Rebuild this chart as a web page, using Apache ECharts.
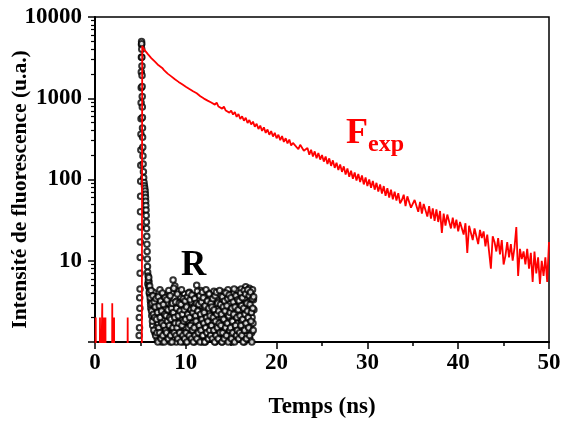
<!DOCTYPE html>
<html>
<head>
<meta charset="utf-8">
<script src="https://cdn.jsdelivr.net/npm/echarts@6/dist/echarts.min.js"></script>
<style>html,body{margin:0;padding:0;background:#fff}#c{width:561px;height:425px}</style>
</head>
<body>
<div id="c"></div>
<script>
// ---------- DATA ----------
const xTickLabels = [0, 10, 20, 30, 40, 50];
const yTickLabels = [10, 100, 1000, 10000];
const yMinorTicks = [2,3,4,5,6,7,8,9,20,30,40,50,60,70,80,90,200,300,400,500,600,700,800,900,2000,3000,4000,5000,6000,7000,8000,9000];

// F_exp (red): early part (noise spikes + rise), time (ns) / counts
const fPreTime  = [0.0, 0.05, 0.08, 0.11, 0.50, 0.55, 0.60, 0.77, 0.80, 0.83, 0.97, 1.00, 1.03, 1.12, 1.15, 1.18, 1.87, 1.90, 1.93, 2.07, 2.10, 2.13, 3.57, 3.60, 3.63, 5.15, 5.20];
const fPreValue = [0.1, 0.1, 2, 0.1, 0.1, 2, 0.1, 0.1, 3, 0.1, 0.1, 2, 0.1, 0.1, 2, 0.1, 0.1, 3, 0.1, 0.1, 2, 0.1, 0.1, 2, 0.1, 0.1, 4400];
// F_exp decay, every 0.2 ns from 5.4 ns
const fStart = 5.4, fStep = 0.2;
const fValue = [
  4000, 3880, 3520, 3330, 3120, 3040, 2820, 2730, 2540, 2470,
  2360, 2220, 2170, 2010, 1990, 1860, 1820, 1710, 1680, 1590,
  1570, 1490, 1480, 1390, 1390, 1300, 1300, 1220, 1215, 1150,
  1160, 1060, 1085, 990, 1025, 935, 970, 885, 920, 835,
  885, 790, 835, 745, 790, 705, 740, 665, 705, 630,
  675, 590, 640, 555, 600, 530, 575, 495, 540, 475,
  515, 445, 485, 418, 460, 396, 438, 375, 412, 355,
  395, 338, 375, 322, 355, 305, 342, 290, 322, 278,
  310, 262, 282, 296, 250, 236, 268, 254, 226, 214,
  244, 202, 232, 192, 222, 183, 212, 176, 200, 166,
  192, 155, 182, 147, 172, 139, 161, 131, 153, 124,
  145, 115, 137, 108, 128, 102, 122, 97, 117, 93,
  112, 87, 106, 83, 100, 79, 96, 75, 91, 71,
  87, 67, 83, 63, 78, 60, 75, 57, 71, 55,
  68, 51, 56, 65, 47, 62, 59, 45, 43, 56,
  55, 40, 53, 38, 50, 48, 35, 47, 33, 44,
  31, 43, 30, 41, 22, 38, 27, 37, 35, 25,
  34, 25, 32, 23, 30, 29, 21, 29, 12.5, 27,
  26, 18, 25, 20, 16, 24, 19, 23, 15, 21,
  21, 8, 20, 17, 13, 19, 12, 18, 9, 11.5,
  17, 11, 16, 10, 14.5, 26, 6.5, 14, 10.5, 13,
  9, 14, 8, 12.5, 5.5, 13, 7, 11, 5.2, 10,
  6.5, 11, 5.5, 17
];

// R (instrument response, black circles): peak part, time (ns) / counts
const rPeakTime = [4.86, 4.88, 4.90, 4.92, 4.94, 4.96, 4.97, 4.98, 4.99, 5.00, 5.01, 5.02, 5.03, 5.04, 5.05, 5.06, 5.07, 5.08, 5.09, 5.10, 5.11, 5.12,
  5.13, 5.14, 5.15, 5.16, 5.17, 5.18, 5.19, 5.20, 5.21, 5.22, 5.23, 5.24, 5.26, 5.28, 5.30, 5.33, 5.36, 5.40, 5.44, 5.48,
  5.52, 5.54, 5.56, 5.58, 5.60, 5.62, 5.64, 5.66, 5.68, 5.70, 5.72, 5.74, 5.76, 5.78, 5.80, 5.82];
const rPeakValue = [1.2, 2.0, 1.5, 3.5, 2.6, 4.5, 7, 11, 17, 26, 40, 62, 95, 150, 230, 360, 560, 880, 1350, 2100, 3200, 4600,
  5000, 4700, 4000, 3200, 2500, 1900, 1400, 1050, 780, 580, 430, 330, 250, 195, 155, 125, 105, 92, 84, 78,
  72, 66, 60, 54, 48, 42, 36, 30, 25, 20, 16, 13, 10.5, 8.5, 7.2, 5.2];
// R background noise, channel A: every 0.05 ns from 5.85 ns
const rStartA = 5.85, rStep = 0.05;
const rNoiseA = [
  6.5, 4.8, 5.5, 3.9, 4.4, 3.2, 2.6, 3.8, 2.1, 3.3, 1.6, 2.8, 4.1, 1.9, 2.4, 1.3, 3.6, 2.2, 1.5, 2.9,
  1.1, 2.5, 1.7, 3.4, 1.2, 2.0, 4.4, 1.4, 1.8, 2.7, 1.0, 3.1, 1.6, 2.3, 1.2, 1.9, 3.8, 1.3, 2.6, 1.5,
  2.1, 1.1, 3.0, 1.7, 1.4, 2.4, 3.5, 1.2, 1.9, 1.0, 2.8, 1.5, 4.0, 2.2, 1.3, 5.8, 1.6, 2.6, 1.1, 4.9,
  1.4, 2.3, 1.0, 3.2, 1.8, 1.2, 2.7, 4.2, 1.5, 2.0, 1.1, 3.6, 1.7, 2.5, 1.3, 1.9, 3.0, 1.0, 2.2, 1.6,
  3.9, 1.2, 2.4, 1.5, 1.0, 2.9, 1.8, 3.4, 1.3, 2.1, 1.1, 4.1, 1.6, 2.6, 1.4, 3.1, 1.2, 2.0, 1.7, 3.7,
  1.3, 2.2, 1.0, 2.8, 1.6, 3.5, 1.2, 5.0, 1.9, 1.4, 2.5, 1.1, 3.3, 1.7, 2.1, 1.3, 4.3, 1.5, 2.7, 1.0,
  2.4, 1.4, 3.0, 1.2, 1.8, 2.6, 1.0, 3.8, 1.5, 2.2, 1.3, 2.9, 1.7, 4.0, 1.1, 2.3, 1.6, 3.4, 1.2, 2.0,
  1.5, 3.1, 1.1, 2.5, 1.8, 4.2, 1.3, 2.1, 1.0, 2.8, 1.6, 3.6, 1.2, 1.9, 2.6, 1.4, 3.9, 1.1, 2.3, 1.7,
  2.9, 1.3, 2.0, 1.0, 3.3, 1.6, 2.4, 4.1, 1.2, 1.8, 2.7, 1.4, 3.5, 1.1, 2.2, 1.5, 4.4, 1.3, 2.0, 1.7,
  3.0, 1.2, 2.5, 1.6, 3.8, 1.0, 2.1, 1.4, 4.0, 1.8, 2.8, 1.1, 3.2, 1.5, 2.3, 1.3, 4.3, 1.7, 2.6, 1.2,
  2.0, 3.6, 1.4, 2.4, 1.1, 4.5, 1.8, 2.9, 1.3, 3.9, 1.6, 2.2, 1.0, 3.4, 1.5, 4.8, 2.6, 1.2, 4.2, 1.9,
  1.4, 3.1, 2.3, 4.6, 1.1, 2.7, 1.6, 3.8, 1.3, 2.0, 4.4, 1.7, 3.3, 2.5
];
// R background noise, channel B: every 0.05 ns from 5.875 ns
const rStartB = 5.875;
const rNoiseB = [
  5.8, 6.2, 4.1, 4.9, 3.5, 2.9, 4.3, 2.4, 3.0, 1.8, 3.7, 2.2, 1.4, 3.1, 2.0, 2.7, 1.2, 3.4, 1.9, 1.3,
  2.3, 1.0, 3.6, 1.5, 2.8, 1.3, 2.0, 3.2, 1.1, 2.4, 1.7, 4.0, 1.2, 2.9, 1.6, 1.0, 2.2, 3.5, 1.4, 2.1,
  1.3, 3.3, 1.8, 2.5, 1.1, 4.3, 1.6, 2.0, 3.7, 1.2, 1.9, 2.6, 1.0, 3.0, 1.5, 2.3, 4.6, 1.3, 2.0, 1.7,
  3.1, 1.2, 2.6, 1.5, 3.9, 1.1, 2.1, 1.7, 3.0, 1.3, 2.4, 1.0, 2.9, 4.4, 1.6, 2.2, 1.2, 3.4, 1.8, 2.5,
  1.1, 3.2, 1.9, 1.3, 2.7, 1.0, 3.6, 2.2, 1.5, 4.0, 1.2, 2.0, 3.3, 1.6, 2.5, 1.1, 3.8, 1.4, 2.3, 1.0,
  2.6, 1.5, 3.4, 1.2, 2.1, 1.8, 3.0, 1.1, 4.2, 2.4, 1.3, 2.9, 1.6, 3.7, 1.0, 2.2, 1.4, 3.1, 1.9, 4.1,
  1.2, 3.5, 1.7, 2.3, 1.0, 2.8, 1.5, 4.4, 2.0, 1.3, 3.2, 1.8, 1.1, 2.6, 3.9, 1.4, 2.1, 1.2, 3.0, 1.6,
  2.7, 1.1, 3.4, 2.0, 1.4, 2.5, 1.0, 3.7, 1.8, 1.2, 4.1, 2.2, 1.5, 3.0, 1.1, 2.4, 1.7, 4.3, 1.3, 2.9,
  1.6, 2.2, 1.0, 3.6, 1.3, 2.7, 1.9, 1.1, 3.2, 2.4, 1.5, 4.0, 1.2, 2.8, 1.7, 3.4, 1.0, 2.1, 3.8, 1.4,
  2.3, 1.5, 3.5, 1.1, 2.6, 1.8, 1.3, 3.1, 2.2, 4.5, 1.0, 2.7, 1.6, 3.7, 1.2, 2.0, 1.4, 3.3, 2.5, 1.1,
  3.2, 1.3, 2.1, 4.0, 1.6, 2.8, 1.2, 3.5, 1.9, 1.0, 2.6, 4.3, 1.4, 2.2, 3.9, 1.7, 1.1, 3.0, 2.4, 4.4,
  2.0, 1.5, 3.7, 1.2, 2.9, 4.1, 1.8, 2.3, 1.0, 3.4, 2.6, 1.4, 3.6
];

// ---------- BUILD ----------
const fData = fPreTime.map((t, i) => [t, fPreValue[i]])
  .concat(fValue.map((v, i) => [+(fStart + i * fStep).toFixed(3), v]));
const rData = rPeakTime.map((t, i) => [t, rPeakValue[i]])
  .concat(rNoiseA.map((v, i) => [+(rStartA + i * rStep).toFixed(3), v]))
  .concat(rNoiseB.map((v, i) => [+(rStartB + i * rStep).toFixed(3), v]));

const FONT = 'Liberation Serif, Times New Roman, serif';
const chart = echarts.init(document.getElementById('c'), null, {renderer: 'canvas'});
const labelStyle = {fontFamily: FONT, fontWeight: 'bold', fontSize: 23, color: '#000'};

chart.setOption({
  animation: false,
  backgroundColor: '#fff',
  grid: {left: 95, right: 12, top: 17, bottom: 83, show: true, borderColor: '#000', borderWidth: 1.5,
         backgroundColor: 'transparent', containLabel: false, outerBoundsMode: 'none'},
  xAxis: {
    type: 'value', min: 0, max: 50, interval: 10,
    name: 'Temps (ns)', nameLocation: 'middle', nameGap: 54, nameMoveOverlap: false,
    nameTextStyle: {fontFamily: FONT, fontWeight: 'bold', fontSize: 23, color: '#000'},
    axisLine: {show: true, onZero: false, lineStyle: {color: '#000', width: 2}},
    axisTick: {show: true, inside: false, length: 7, lineStyle: {color: '#000', width: 1.5}},
    minorTick: {show: true, splitNumber: 2, length: 4, lineStyle: {color: '#000', width: 1.5}},
    axisLabel: Object.assign({margin: 10, formatter: v => xTickLabels.includes(Math.round(v)) ? String(Math.round(v)) : ''}, labelStyle),
    splitLine: {show: false}
  },
  yAxis: [{
    type: 'log', logBase: 10, min: 1, max: 10000,
    name: 'Intensité de fluorescence (u.a.)', nameLocation: 'middle', nameRotate: 90, nameGap: 64, nameMoveOverlap: false,
    nameTextStyle: {fontFamily: FONT, fontWeight: 'bold', fontSize: 21.5, color: '#000', padding: [0, 20, 0, 0]},
    axisLine: {show: true, onZero: false, lineStyle: {color: '#000', width: 2}},
    axisTick: {show: true, inside: false, length: 7, lineStyle: {color: '#000', width: 1.5}},
    axisLabel: Object.assign({margin: 13, formatter: v => yTickLabels.includes(Math.round(v)) ? String(Math.round(v)) : ''}, labelStyle),
    splitLine: {show: false}
  }, {
    // helper axis in decades (log10 of the value) carrying the minor ticks 2..9 of each decade
    type: 'value', min: 0, max: 4, position: 'left', offset: 0,
    axisLine: {show: false},
    axisTick: {show: true, inside: false, length: 4, customValues: yMinorTicks.map(v => Math.log10(v)), lineStyle: {color: '#000', width: 1.2}},
    axisLabel: {show: false},
    splitLine: {show: false}
  }],
  series: [{
    name: 'R', type: 'scatter', data: rData, yAxisIndex: 0,
    symbol: 'emptyCircle', symbolSize: 5.5,
    itemStyle: {color: '#000', borderColor: '#000', borderWidth: 1},
    clip: true, z: 2, silent: true
  }, {
    name: 'Fexp', type: 'line', data: fData, yAxisIndex: 0,
    showSymbol: false, symbol: 'none',
    lineStyle: {color: '#ff0000', width: 1.8},
    clip: true, z: 3, silent: true
  }],
  graphic: [
    {type: 'text', x: 346, y: 134, z: 10, style: {text: 'F', fill: '#ff0000', font: 'bold 36px ' + FONT, textAlign: 'left', verticalAlign: 'middle'}},
    {type: 'text', x: 368, y: 144.5, z: 10, style: {text: 'exp', fill: '#ff0000', font: 'bold 24px ' + FONT, textAlign: 'left', verticalAlign: 'middle'}},
    {type: 'text', x: 181, y: 266, z: 10, style: {text: 'R', fill: '#000', font: 'bold 35px ' + FONT, textAlign: 'left', verticalAlign: 'middle'}}
  ]
});
</script>
</body>
</html>
